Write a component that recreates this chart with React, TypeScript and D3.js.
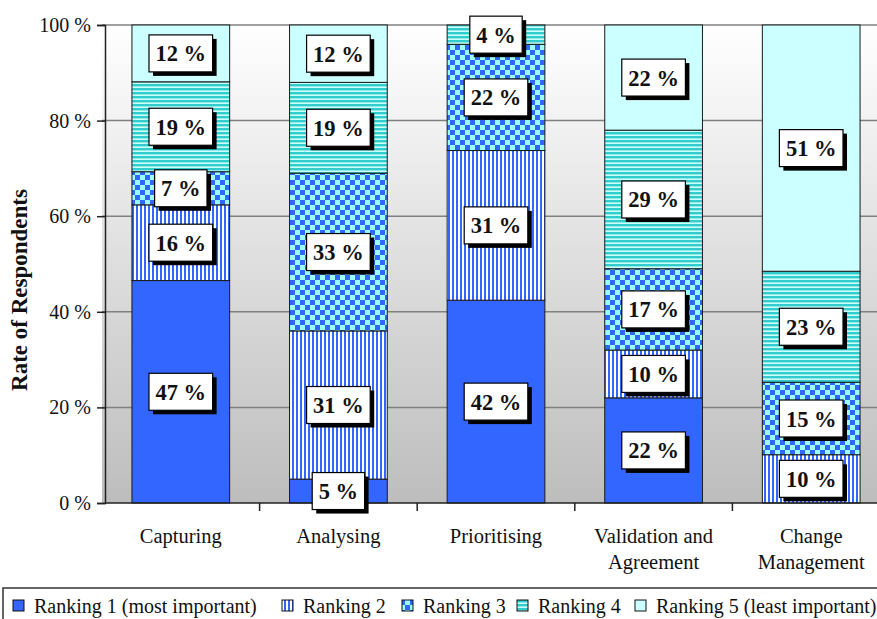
import React, { useEffect, useRef } from "react";
import * as d3 from "d3";

const categories = ["Capturing", "Analysing", "Prioritising", "Validation and Agreement", "Change Management"];
const categoryLines = [["Capturing"], ["Analysing"], ["Prioritising"], ["Validation and", "Agreement"], ["Change", "Management"]];
const ranking1 = [47, 5, 42, 22, 0];
const ranking2 = [16, 31, 31, 10, 10];
const ranking3 = [7, 33, 22, 17, 15];
const ranking4 = [19, 19, 4, 29, 23];
const ranking5 = [12, 12, 0, 22, 51];
const seriesNames = ["Ranking 1 (most important)", "Ranking 2", "Ranking 3", "Ranking 4", "Ranking 5 (least important)"];
const yTicks = [0, 0.2, 0.4, 0.6, 0.8, 1];

const W = 877;
const H = 619;
const FONT = "Liberation Serif, Times New Roman, serif";

export default function App() {
  const svgRef = useRef<SVGSVGElement | null>(null);

  useEffect(() => {
    const svg = d3.select(svgRef.current);
    svg.selectAll("*").remove();

    const series = [ranking1, ranking2, ranking3, ranking4, ranking5];
    const rows = categories.map((c, i) => {
      const r: any = { category: c };
      seriesNames.forEach((s, j) => (r[s] = series[j][i]));
      return r;
    });
    const stacked = d3.stack().keys(seriesNames).offset(d3.stackOffsetExpand)(rows);

    const left = 102, right = 890, top = 25, bottom = 503;
    const x = d3.scaleBand().domain(categories).range([left, right]).paddingInner(0.38).paddingOuter(0.19);
    const y = d3.scaleLinear().domain([0, 1]).range([bottom, top]);

    const defs = svg.append("defs");
    const bg = defs.append("linearGradient").attr("id", "bg").attr("x1", 0).attr("y1", 0).attr("x2", 0).attr("y2", 1);
    bg.append("stop").attr("offset", "0%").attr("stop-color", "#ffffff");
    bg.append("stop").attr("offset", "100%").attr("stop-color", "#bdbdbd");

    const p2 = defs.append("pattern").attr("id", "p2").attr("patternUnits", "userSpaceOnUse").attr("width", 4).attr("height", 4);
    p2.append("rect").attr("width", 4).attr("height", 4).attr("fill", "#ffffff");
    p2.append("rect").attr("width", 2).attr("height", 4).attr("fill", "#3366ff");

    const p3 = defs.append("pattern").attr("id", "p3").attr("patternUnits", "userSpaceOnUse").attr("width", 10).attr("height", 10);
    p3.append("rect").attr("width", 10).attr("height", 10).attr("fill", "#99ffff");
    p3.append("rect").attr("width", 5).attr("height", 5).attr("fill", "#3366ff");
    p3.append("rect").attr("x", 5).attr("y", 5).attr("width", 5).attr("height", 5).attr("fill", "#3366ff");

    const p4 = defs.append("pattern").attr("id", "p4").attr("patternUnits", "userSpaceOnUse").attr("width", 4).attr("height", 4);
    p4.append("rect").attr("width", 4).attr("height", 4).attr("fill", "#ccffff");
    p4.append("rect").attr("width", 4).attr("height", 2.4).attr("fill", "#33cccc");

    const fills = ["#3366ff", "url(#p2)", "url(#p3)", "url(#p4)", "#ccffff"];

    // plot background
    svg.append("rect").attr("x", left).attr("y", top).attr("width", right - left).attr("height", bottom - top).attr("fill", "url(#bg)");

    // gridlines
    svg.append("g")
      .selectAll("line")
      .data(yTicks.slice(1))
      .join("line")
      .attr("x1", left).attr("x2", right)
      .attr("y1", (d) => y(d)).attr("y2", (d) => y(d))
      .attr("stroke", "#808080").attr("stroke-width", 1.5);

    // bars
    stacked.forEach((layer, j) => {
      svg.append("g")
        .selectAll("rect")
        .data(layer)
        .join("rect")
        .attr("x", (d: any) => x(d.data.category)!)
        .attr("width", x.bandwidth())
        .attr("y", (d) => y(d[1]))
        .attr("height", (d) => y(d[0]) - y(d[1]))
        .attr("fill", fills[j])
        .attr("stroke", (d) => (d[1] - d[0] > 0 ? "#1a1a1a" : "none"))
        .attr("stroke-width", 1);
    });

    // axes
    const gy = svg.append("g").attr("transform", `translate(${left + 3},0)`)
      .call(d3.axisLeft(y).tickValues(yTicks).tickSize(8).tickPadding(6).tickFormat((d: any) => `${Math.round(d * 100)} %`));
    gy.attr("font-family", FONT);
    gy.selectAll(".domain").attr("stroke", "#222").attr("stroke-width", 1.5);
    gy.selectAll(".tick line").attr("stroke", "#222").attr("stroke-width", 1.5);
    gy.selectAll("text").attr("font-family", FONT).attr("font-size", 20).attr("fill", "#111");

    const bounds = d3.range(categories.length + 1).map((i) => left + i * x.step());
    const gx = svg.append("g");
    gx.append("line").attr("x1", left + 3).attr("x2", right).attr("y1", bottom).attr("y2", bottom).attr("stroke", "#222").attr("stroke-width", 1.5);
    gx.selectAll(".bt")
      .data(bounds.slice(1, -1))
      .join("line")
      .attr("x1", (d) => d).attr("x2", (d) => d)
      .attr("y1", bottom).attr("y2", bottom + 8)
      .attr("stroke", "#222").attr("stroke-width", 1.5);
    categories.forEach((c, i) => {
      const t = gx.append("text")
        .attr("x", x(c)! + x.bandwidth() / 2)
        .attr("y", 543)
        .attr("text-anchor", "middle")
        .attr("font-family", FONT)
        .attr("font-size", 20.5)
        .attr("fill", "#111");
      categoryLines[i].forEach((ln, k) => {
        t.append("tspan").attr("x", x(c)! + x.bandwidth() / 2).attr("dy", k === 0 ? 0 : 26).text(ln);
      });
    });

    // y title
    svg.append("text")
      .attr("transform", `translate(27,${(top + bottom) / 2 + 26}) rotate(-90)`)
      .attr("text-anchor", "middle")
      .attr("font-family", FONT)
      .attr("font-size", 23)
      .attr("font-weight", "bold")
      .attr("fill", "#111")
      .text("Rate of Respondents");

    // value labels
    const lab = svg.append("g");
    stacked.forEach((layer, j) => {
      layer.forEach((d: any, i) => {
        const v = series[j][i];
        if (!v) return;
        const cx = x(d.data.category)! + x.bandwidth() / 2;
        const cy = y((d[0] + d[1]) / 2);
        const g = lab.append("g");
        const shadow = g.append("rect").attr("fill", "#000");
        const box = g.append("rect").attr("fill", "#fff").attr("stroke", "#000").attr("stroke-width", 1.2);
        const t = g.append("text")
          .attr("x", cx).attr("y", cy + 8)
          .attr("text-anchor", "middle")
          .attr("font-family", FONT)
          .attr("font-size", 22.5)
          .attr("font-weight", "bold")
          .attr("fill", "#111")
          .text(`${v} %`);
        const tw = (t.node() as SVGTextElement).getComputedTextLength();
        const bw = tw + 13, bh = 37;
        box.attr("x", cx - bw / 2).attr("y", cy - bh / 2).attr("width", bw).attr("height", bh);
        shadow.attr("x", cx - bw / 2 + 4).attr("y", cy - bh / 2 + 4).attr("width", bw).attr("height", bh);
      });
    });

    // legend
    const legendX = [13, 282, 402, 517, 635];
    const lg = svg.append("g");
    lg.append("rect").attr("x", 3).attr("y", 588).attr("width", 890).attr("height", 50)
      .attr("fill", "#fff").attr("stroke", "#333").attr("stroke-width", 1.5);
    seriesNames.forEach((s, j) => {
      lg.append("rect").attr("x", legendX[j]).attr("y", 600).attr("width", 11).attr("height", 11)
        .attr("fill", fills[j]).attr("stroke", "#111").attr("stroke-width", 1);
      lg.append("text").attr("x", legendX[j] + 21).attr("y", 613)
        .attr("font-family", FONT).attr("font-size", 20).attr("fill", "#111").text(s);
    });
  }, []);

  return (
    <svg ref={svgRef} width={W} height={H} style={{ display: "block", position: "absolute", left: 0, top: 0, background: "#fff" }} />
  );
}
